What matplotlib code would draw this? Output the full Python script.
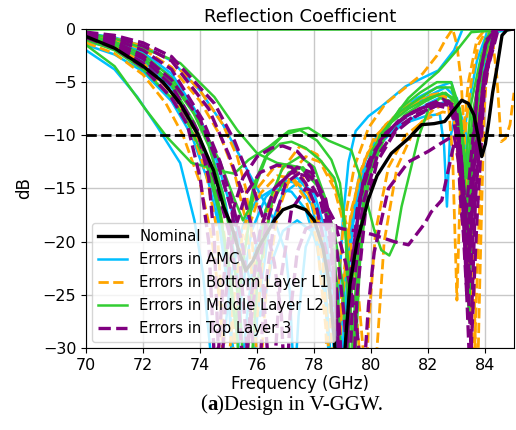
import matplotlib
matplotlib.use("Agg")
import matplotlib.pyplot as plt
from matplotlib.lines import Line2D

# ---------------- data (frequency in GHz, reflection in dB) ----------------
nom_f = [70, 71, 72, 72.7, 73.3, 73.94, 74.47, 74.82, 75.1, 75.35, 75.6, 75.85, 76.1, 76.6, 76.9, 77.3, 77.7, 78.0, 78.3, 78.5, 78.7, 78.9, 79.05, 79.25, 79.5, 79.9, 80.2, 80.7, 81.3, 81.76, 82.2, 82.57, 82.9, 83.17, 83.4, 83.6, 83.75, 83.87, 84.0, 84.1, 84.25, 84.4, 84.58, 84.75, 85]
nom_db = [-0.7, -1.8, -3.5, -5.0, -7.0, -10.0, -13.3, -16.7, -18.5, -20.8, -22.7, -21.8, -20.3, -18.0, -17.0, -16.6, -17.0, -18.0, -20.5, -23.5, -29, -38, -31, -24, -20, -16, -13.8, -11.7, -10.3, -9.0, -8.9, -8.7, -7.6, -6.7, -7.0, -8.1, -10.2, -12.0, -10.8, -9.0, -6.0, -3.7, -0.6, -0.1, 0.0]

# Errors in AMC
amc1_f = [70, 71, 71.8, 72.5, 73.3, 73.8, 74.1, 74.35, 74.55, 74.8, 75.1, 75.5, 76.0, 76.6, 77.2, 77.7, 78.1, 78.4, 78.6, 78.8, 79.0, 79.2, 79.45, 79.9, 80.35, 81.2, 81.8, 82.35, 82.9, 83.2, 85]
amc1_db = [-2.0, -3.8, -6.4, -9.2, -12.6, -18.0, -23.0, -30.0, -38.0, -30.0, -23.0, -18.5, -16.0, -15.0, -15.3, -17.0, -20.5, -26.0, -35.0, -28.0, -18.0, -12.5, -9.6, -8.2, -7.3, -5.4, -4.6, -3.9, -2.0, 0.0, 0.0]
amc2_f = [70, 71, 72, 73, 73.6, 74.2, 74.6, 74.9, 75.15, 75.35, 75.6, 75.9, 76.3, 76.9, 77.4, 77.9, 78.3, 78.6, 78.8, 79.0, 79.3, 79.7, 80.3, 81.0, 81.9, 82.4, 82.55, 82.65, 82.75, 82.9, 83.1, 83.3, 83.45, 83.6, 83.9, 84.25, 85]
amc2_db = [-1.2, -1.8, -3.0, -5.5, -8.0, -12.0, -17.0, -22.0, -30.0, -38.0, -28.0, -21.0, -17.0, -14.5, -14.0, -15.5, -19.0, -26.0, -36.0, -26.0, -18.0, -13.5, -10.5, -9.0, -8.2, -8.0, -11.0, -16.7, -10.5, -8.5, -8.8, -12.0, -18.0, -11.0, -4.5, 0.0, 0.0]
amc3_f = [70, 71, 72, 73, 74, 74.6, 75.1, 75.6, 75.9, 76.1, 76.3, 76.5, 76.9, 77.4, 77.9, 78.3, 78.6, 78.85, 79.05, 79.3, 79.7, 80.1, 80.6, 81.3, 82.0, 82.6, 83.0, 83.25, 83.45, 83.6, 83.9, 84.35, 85]
amc3_db = [-0.8, -1.3, -2.5, -4.5, -8.5, -12.5, -17.0, -22.0, -25.5, -27.0, -25.0, -22.0, -19.0, -18.0, -19.0, -21.0, -26.0, -36.0, -28.0, -19.0, -14.0, -11.5, -10.0, -8.6, -7.6, -6.8, -7.5, -11.0, -18.0, -11.0, -5.0, -0.3, 0.0]
amc4_f = [70, 71, 72, 73, 73.8, 74.4, 74.9, 75.3, 75.55, 75.75, 76.0, 76.4, 76.9, 77.5, 78.0, 78.4, 78.7, 78.9, 79.1, 79.4, 79.8, 80.4, 81.2, 82.0, 82.6, 83.0, 83.25, 83.5, 83.65, 83.95, 84.3, 85]
amc4_db = [-0.5, -1.1, -2.2, -4.2, -7.5, -11.5, -16.5, -23.0, -32.0, -38.0, -27.0, -19.0, -15.5, -14.3, -15.5, -19.0, -26.0, -36.0, -26.0, -17.0, -12.2, -9.3, -7.6, -6.3, -5.5, -6.5, -10.0, -17.0, -10.0, -4.0, 0.0, 0.0]
amc5_f = [70, 71, 72, 73, 73.7, 74.3, 74.7, 75.0, 75.2, 75.45, 75.8, 76.3, 76.9, 77.4, 77.9, 78.3, 78.55, 78.7, 78.9, 79.2, 79.6, 80.2, 80.9, 81.6, 82.3, 82.8, 83.0, 83.15, 83.35, 83.7, 84.1, 85]
amc5_db = [-1.5, -2.4, -4.0, -6.8, -10.0, -14.5, -19.0, -25.0, -36.0, -25.0, -19.0, -15.8, -14.2, -14.5, -16.5, -21.0, -30.0, -40.0, -28.0, -19.0, -13.5, -10.0, -8.0, -6.5, -5.5, -5.0, -7.0, -12.0, -8.0, -3.0, 0.0, 0.0]
amc6_f = [70, 71, 72, 73, 74, 74.8, 75.5, 76.1, 76.6, 77.0, 77.15, 77.3, 77.45, 77.7, 78.0, 78.3, 78.6, 78.8, 79.0, 79.2, 79.5, 79.9, 80.5, 81.2, 82.0, 82.6, 83.0, 83.3, 83.5, 83.7, 84.0, 84.35, 85]
amc6_db = [-0.4, -0.8, -1.6, -3.0, -5.8, -9.0, -12.5, -15.5, -18.0, -21.0, -25.0, -34.0, -27.0, -20.5, -18.5, -19.5, -23.0, -30.0, -36.0, -26.0, -18.0, -13.0, -10.0, -8.3, -7.0, -6.2, -6.8, -9.5, -15.0, -9.0, -3.5, 0.0, 0.0]

# Errors in Bottom Layer L1
l1a_f = [70, 71, 72, 73, 73.7, 74.2, 74.6, 74.85, 75.0, 75.2, 75.6, 76.1, 76.7, 77.2, 77.7, 78.1, 78.4, 78.55, 78.75, 79.0, 79.4, 79.9, 80.5, 81.2, 81.8, 82.3, 82.6, 82.85, 83.0, 83.15, 83.3, 83.45, 83.6, 83.85, 84.15, 85]
l1a_db = [-0.9, -1.6, -3.2, -6.0, -9.5, -13.5, -19.0, -30.0, -38.0, -28.0, -19.5, -15.5, -13.8, -14.0, -16.0, -20.0, -28.0, -38.0, -27.0, -19.0, -13.0, -9.3, -7.0, -5.5, -4.2, -2.5, -1.0, 0.0, -1.5, -5.0, -12.0, -22.0, -12.0, -4.0, 0.0, 0.0]
l1b_f = [70, 71, 72, 73, 74, 74.7, 75.2, 75.6, 75.85, 76.05, 76.3, 76.7, 77.2, 77.7, 78.2, 78.7, 79.1, 79.4, 79.6, 79.75, 79.9, 80.15, 80.6, 81.2, 81.9, 82.5, 82.9, 83.2, 83.45, 83.6, 83.7, 83.8, 83.95, 84.1, 84.25, 84.4, 84.55, 84.7, 84.86, 85]
l1b_db = [-0.6, -1.0, -1.9, -3.6, -6.8, -10.0, -13.5, -18.0, -24.0, -35.0, -25.0, -17.5, -13.5, -12.0, -12.5, -15.0, -19.0, -24.0, -31.0, -38.0, -28.0, -19.0, -13.0, -10.0, -8.5, -7.8, -8.0, -10.0, -16.0, -24.0, -36.0, -24.0, -8.0, -1.5, -1.0, -4.5, -10.6, -10.3, -9.0, -6.0]
l1c_f = [70, 71, 72, 73, 74, 74.8, 75.3, 75.6, 75.8, 76.0, 76.3, 76.8, 77.5, 78.1, 78.7, 79.2, 79.55, 79.8, 80.0, 80.2, 80.45, 80.9, 81.5, 82.2, 82.7, 82.85, 83.0, 83.15, 83.4, 83.7, 84.0, 85]
l1c_db = [-0.5, -0.9, -1.6, -3.0, -5.8, -9.0, -12.0, -15.0, -19.0, -27.0, -19.0, -13.5, -11.0, -11.8, -14.5, -19.0, -25.0, -33.0, -40.0, -30.0, -20.0, -13.0, -9.5, -7.5, -7.0, -12.0, -25.5, -12.0, -5.0, -1.0, 0.0, 0.0]
l1d_f = [70, 71, 72, 73, 73.8, 74.4, 74.8, 75.1, 75.3, 75.5, 75.8, 76.2, 76.8, 77.3, 77.8, 78.2, 78.5, 78.75, 78.95, 79.2, 79.6, 80.1, 80.8, 81.5, 82.2, 82.8, 83.1, 83.4, 83.6, 83.75, 83.9, 84.25, 85]
l1d_db = [-1.0, -1.9, -3.6, -6.4, -9.8, -14.0, -18.5, -24.0, -33.0, -38.0, -25.0, -18.0, -14.8, -14.2, -15.5, -18.5, -24.0, -37.0, -27.0, -19.0, -13.5, -10.2, -8.3, -7.0, -6.2, -6.5, -10.0, -20.0, -32.0, -20.0, -8.0, 0.0, 0.0]
l1e_f = [70, 71, 72, 72.8, 73.4, 74.0, 74.4, 74.7, 74.9, 75.15, 75.5, 76.0, 76.6, 77.1, 77.6, 78.0, 78.3, 78.5, 78.7, 78.95, 79.3, 79.8, 80.5, 81.2, 81.9, 82.5, 82.9, 83.1, 83.3, 83.5, 83.75, 84.05, 85]
l1e_db = [-1.3, -2.3, -4.3, -7.0, -10.0, -14.5, -19.5, -26.0, -36.0, -26.0, -19.0, -15.0, -13.0, -12.8, -14.0, -17.0, -22.0, -30.0, -38.0, -25.0, -17.0, -12.0, -9.0, -7.3, -6.3, -6.0, -8.5, -14.0, -9.5, -5.0, -1.5, 0.0, 0.0]

# Errors in Middle Layer L2
l2z_f = [70, 85]
l2z_db = [0.0, 0.0]
l2a_f = [70, 71, 72.1, 72.85, 73.7, 74.3, 74.8, 75.2, 75.7, 76.4, 77.1, 77.8, 78.5, 79.3, 79.65, 80.1, 80.35, 80.63, 80.85, 81.06, 81.65, 82.0, 82.4, 82.8, 83.1, 83.3, 83.42, 83.55, 83.75, 84.0, 84.3, 85]
l2a_db = [-1.5, -3.5, -7.6, -10.2, -12.6, -13.0, -13.4, -13.6, -12.3, -11.1, -9.6, -9.3, -10.5, -11.4, -14.2, -18.9, -20.8, -21.3, -20.0, -16.7, -10.2, -7.6, -6.5, -6.8, -10.0, -18.0, -27.4, -15.0, -5.0, -1.0, 0.0, 0.0]
l2b_f = [70, 71, 72, 73, 73.8, 74.3, 74.7, 75.0, 75.25, 75.5, 75.9, 76.4, 76.9, 77.5, 78.1, 78.6, 78.9, 79.1, 79.3, 79.5, 79.8, 80.3, 81.0, 81.7, 82.3, 82.8, 83.1, 83.35, 83.55, 83.9, 84.25, 85]
l2b_db = [-0.8, -1.5, -2.8, -5.3, -8.8, -12.5, -17.0, -23.0, -28.0, -22.0, -15.0, -11.5, -10.0, -9.5, -10.5, -12.3, -14.5, -19.0, -36.0, -22.0, -14.0, -10.0, -7.8, -6.5, -5.5, -5.5, -8.0, -14.0, -8.0, -3.0, 0.0, 0.0]
l2c_f = [70, 71, 72, 73.3, 74.5, 75.3, 76.0, 76.7, 77.5, 78.2, 78.7, 79.0, 79.25, 79.45, 79.7, 80.1, 80.6, 81.3, 82.0, 82.35, 83.0, 83.5, 85]
l2c_db = [-0.4, -0.9, -1.8, -3.2, -6.4, -9.5, -11.7, -12.6, -13.0, -15.0, -19.0, -24.0, -38.0, -26.0, -17.0, -12.0, -9.0, -6.5, -4.8, -4.0, -2.0, -0.3, 0.0]
l2d_f = [70, 71, 72, 73, 73.7, 74.3, 74.8, 75.1, 75.4, 75.65, 76.0, 76.5, 77.1, 77.6, 78.1, 78.5, 78.8, 79.05, 79.3, 79.6, 80.0, 80.6, 81.3, 82.0, 82.6, 83.0, 83.2, 83.4, 83.6, 83.9, 84.25, 85]
l2d_db = [-0.6, -1.2, -2.4, -4.6, -7.5, -11.0, -15.5, -20.0, -27.0, -37.0, -24.0, -16.5, -13.5, -13.0, -14.5, -18.0, -24.0, -37.0, -25.0, -16.0, -11.5, -9.0, -7.5, -6.5, -6.0, -7.0, -11.0, -19.0, -10.0, -3.5, 0.0, 0.0]
l2e_f = [70, 71, 72, 73, 73.6, 74.2, 74.7, 75.0, 75.3, 75.5, 75.8, 76.3, 76.9, 77.5, 78.0, 78.4, 78.7, 78.95, 79.2, 79.5, 79.9, 80.5, 81.2, 81.9, 82.5, 82.9, 83.1, 83.35, 83.55, 83.85, 84.2, 85]
l2e_db = [-1.0, -2.0, -3.8, -6.5, -9.0, -12.5, -17.5, -22.0, -29.0, -38.0, -25.0, -17.0, -13.0, -12.0, -13.0, -16.0, -21.0, -31.0, -37.0, -22.0, -14.0, -10.0, -8.0, -6.8, -6.0, -6.5, -10.0, -17.0, -8.5, -3.0, 0.0, 0.0]
l2f_f = [70, 71, 72, 73, 74, 74.7, 75.2, 75.5, 75.7, 75.9, 76.3, 76.8, 77.2, 77.7, 78.2, 78.7, 79.0, 79.2, 79.4, 79.6, 79.9, 80.3, 81.0, 81.7, 82.3, 82.8, 83.1, 83.3, 83.5, 83.85, 84.2, 85]
l2f_db = [-0.7, -1.4, -2.7, -5.0, -8.8, -12.5, -16.0, -18.0, -17.0, -14.5, -12.0, -10.8, -10.6, -11.2, -12.3, -14.0, -17.0, -22.0, -33.0, -22.0, -14.0, -10.5, -7.5, -6.0, -5.0, -5.0, -7.5, -13.0, -7.0, -2.5, 0.0, 0.0]

# Errors in Top Layer 3
l3a_f = [70, 71, 72, 73, 73.55, 74.0, 74.3, 74.55, 74.8, 75.1, 75.5, 76.0, 76.5, 76.9, 77.4, 77.9, 78.3, 78.6, 78.8, 79.0, 79.3, 79.7, 80.3, 81.0, 81.7, 82.3, 82.8, 83.0, 83.15, 83.35, 83.5, 83.7, 84.0, 84.3, 85]
l3a_db = [-0.8, -1.8, -3.6, -6.5, -9.0, -14.0, -20.0, -34.0, -24.0, -17.5, -14.0, -12.0, -11.2, -11.0, -11.5, -13.0, -16.0, -20.0, -28.0, -37.0, -22.0, -14.5, -10.5, -8.5, -7.5, -7.0, -7.2, -10.0, -17.0, -22.0, -14.0, -6.0, -1.5, 0.0, 0.0]
l3b_f = [70, 71, 72, 73, 73.9, 74.3, 74.5, 74.7, 74.9, 75.2, 75.6, 76.1, 76.7, 77.2, 77.7, 78.1, 78.5, 78.75, 78.95, 79.2, 79.6, 80.1, 80.8, 81.5, 82.2, 82.7, 83.0, 83.2, 83.45, 83.65, 83.95, 84.35, 85]
l3b_db = [-0.6, -1.4, -2.8, -5.3, -9.5, -14.0, -20.0, -35.0, -25.0, -19.0, -15.5, -13.5, -12.8, -13.0, -14.5, -17.0, -22.0, -30.0, -38.0, -26.0, -16.0, -11.5, -9.0, -7.8, -7.0, -6.8, -8.5, -14.0, -21.0, -12.0, -4.5, 0.0, 0.0]
l3c_f = [70, 71, 72, 73, 74.1, 74.7, 75.1, 75.5, 75.75, 76.0, 76.25, 76.6, 77.0, 77.6, 78.1, 78.5, 78.8, 79.0, 79.15, 79.35, 79.7, 80.2, 80.9, 81.6, 82.3, 82.8, 83.05, 83.2, 83.35, 83.6, 83.95, 84.35, 85]
l3c_db = [-0.5, -1.0, -2.0, -3.8, -8.6, -12.5, -16.0, -20.5, -26.0, -36.0, -25.0, -18.0, -14.5, -13.3, -14.5, -18.0, -25.0, -33.0, -38.0, -25.0, -16.5, -12.0, -9.3, -8.0, -7.2, -7.5, -11.0, -18.0, -25.2, -13.0, -4.5, 0.0, 0.0]
l3d_f = [70, 71, 72, 73, 74.3, 75.0, 75.5, 75.9, 76.2, 76.5, 76.8, 77.2, 77.7, 78.2, 78.7, 79.1, 79.45, 79.7, 79.9, 80.1, 80.6, 81.3, 82.0, 82.47, 82.9, 83.15, 83.35, 83.5, 83.7, 83.95, 84.3, 85]
l3d_db = [-0.4, -0.8, -1.6, -3.0, -7.5, -11.8, -15.5, -19.5, -24.0, -36.0, -24.0, -17.0, -15.0, -15.5, -18.0, -22.0, -27.0, -34.0, -26.0, -21.0, -15.0, -12.5, -11.5, -10.7, -10.0, -14.0, -22.0, -30.0, -18.0, -6.0, 0.0, 0.0]
l3e_f = [70, 71, 72, 73, 74.5, 75.2, 75.8, 76.3, 76.6, 76.85, 77.0, 77.15, 77.4, 77.7, 78.1, 78.6, 79.0, 79.5, 80.0, 80.35, 80.8, 81.3, 81.87, 82.1, 82.47, 82.8, 83.0, 83.15, 83.3, 83.5, 83.75, 84.05, 84.4, 85]
l3e_db = [-0.3, -0.6, -1.3, -2.6, -7.0, -10.5, -14.5, -18.5, -22.0, -27.0, -36.0, -27.0, -21.0, -18.8, -18.3, -18.5, -18.8, -19.0, -19.3, -19.6, -20.0, -20.3, -18.3, -17.2, -16.1, -12.0, -9.5, -12.0, -18.0, -12.0, -5.0, -1.0, 0.0, 0.0]
l3f_f = [70, 71, 72, 73, 73.9, 74.5, 75.0, 75.3, 75.55, 75.8, 76.1, 76.6, 77.2, 77.7, 78.2, 78.55, 78.8, 79.0, 79.2, 79.5, 79.9, 80.5, 81.2, 81.9, 82.5, 82.9, 83.1, 83.3, 83.45, 83.65, 83.95, 84.4, 85]
l3f_db = [-0.7, -1.6, -3.2, -5.9, -9.8, -14.0, -19.0, -24.0, -34.0, -25.0, -19.0, -15.0, -13.5, -13.8, -16.0, -20.0, -27.0, -38.0, -27.0, -17.0, -12.5, -9.8, -8.2, -7.2, -6.6, -7.2, -10.5, -17.0, -24.0, -15.0, -5.0, 0.0, 0.0]
l3g_f = [70, 71, 72, 73, 74.0, 74.6, 75.1, 75.4, 75.65, 75.9, 76.3, 76.8, 77.4, 77.9, 78.4, 78.8, 79.05, 79.3, 79.5, 79.8, 80.2, 80.8, 81.5, 82.2, 82.7, 83.0, 83.15, 83.3, 83.45, 83.65, 83.95, 84.45, 85]
l3g_db = [-0.5, -1.2, -2.5, -4.8, -8.5, -12.5, -17.0, -22.0, -30.0, -25.0, -18.5, -14.5, -13.0, -13.5, -16.0, -21.0, -27.0, -37.0, -25.0, -17.0, -12.5, -9.8, -8.3, -7.3, -6.8, -8.0, -13.0, -22.0, -32.0, -16.0, -5.0, 0.0, 0.0]

x_ticks = [70, 72, 74, 76, 78, 80, 82, 84]
y_ticks = [0, -5, -10, -15, -20, -25, -30]
threshold_db = -10

labels = ["Nominal", "Errors in AMC", "Errors in Bottom Layer L1",
          "Errors in Middle Layer L2", "Errors in Top Layer 3"]

amc_curves = [(amc1_f, amc1_db), (amc2_f, amc2_db), (amc3_f, amc3_db),
              (amc4_f, amc4_db), (amc5_f, amc5_db), (amc6_f, amc6_db)]
l1_curves = [(l1a_f, l1a_db), (l1b_f, l1b_db), (l1c_f, l1c_db),
             (l1d_f, l1d_db), (l1e_f, l1e_db)]
l2_curves = [(l2z_f, l2z_db), (l2a_f, l2a_db), (l2b_f, l2b_db), (l2c_f, l2c_db),
             (l2d_f, l2d_db), (l2e_f, l2e_db), (l2f_f, l2f_db)]
l3_curves = [(l3a_f, l3a_db), (l3b_f, l3b_db), (l3c_f, l3c_db), (l3d_f, l3d_db),
             (l3e_f, l3e_db), (l3f_f, l3f_db), (l3g_f, l3g_db)]

# ---------------- styles ----------------
C_NOM = "black"
C_AMC = "#00BFFF"
C_L1 = "#FFA500"
C_L2 = "#32CD32"
C_L3 = "#800080"

fig = plt.figure(figsize=(5.16, 4.30), dpi=100)
ax = fig.add_axes([0.1667, 0.1907, 0.8294, 0.7419])

for f, d in amc_curves:
    ax.plot(f, d, color=C_AMC, lw=1.8, ls="-", zorder=2)
for f, d in l1_curves:
    ax.plot(f, d, color=C_L1, lw=2.0, ls="--", zorder=2)
for f, d in l2_curves:
    ax.plot(f, d, color=C_L2, lw=1.8, ls="-", zorder=2)
for f, d in l3_curves:
    ax.plot(f, d, color=C_L3, lw=2.4, ls="--", zorder=2)
ax.plot(nom_f, nom_db, color=C_NOM, lw=2.4, zorder=4)

ax.axhline(threshold_db, color="black", lw=2.0, ls="--", zorder=5)

ax.set_xlim(70, 85)
ax.set_ylim(-30, 0)
ax.set_xticks(x_ticks)
ax.set_yticks(y_ticks)
ax.tick_params(labelsize=11.5)
ax.grid(True, color="#c8c8c8", lw=1.0)
ax.set_axisbelow(True)
ax.set_xlabel("Frequency (GHz)", fontsize=12, labelpad=2)
ax.set_ylabel("dB", fontsize=12, labelpad=7)
ax.set_title("Reflection Coefficient", fontsize=13, pad=5)

handles = [
    Line2D([], [], color=C_NOM, lw=2.4),
    Line2D([], [], color=C_AMC, lw=1.8),
    Line2D([], [], color=C_L1, lw=2.0, ls="--"),
    Line2D([], [], color=C_L2, lw=1.8),
    Line2D([], [], color=C_L3, lw=2.4, ls="--"),
]
leg = ax.legend(handles, labels, loc="lower left", fontsize=10.6,
                framealpha=0.8, borderaxespad=0.4, labelspacing=0.55)
leg.set_zorder(10)

# caption with bold "a"
fig.canvas.draw()
r = fig.canvas.get_renderer()
t1 = fig.text(0.388, 0.058, "(", fontsize=15, family="Liberation Serif", va="center")
def place_after(prev, s, weight="normal"):
    fig.canvas.draw()
    bb = prev.get_window_extent(renderer=r)
    x = bb.x1 / fig.bbox.width
    return fig.text(x, 0.058, s, fontsize=15, family="Liberation Serif",
                    weight=weight, va="center")
t2 = place_after(t1, "a", "bold")
t3 = place_after(t2, ")Design in V-GGW.")

fig.savefig("out.png", dpi=100)
